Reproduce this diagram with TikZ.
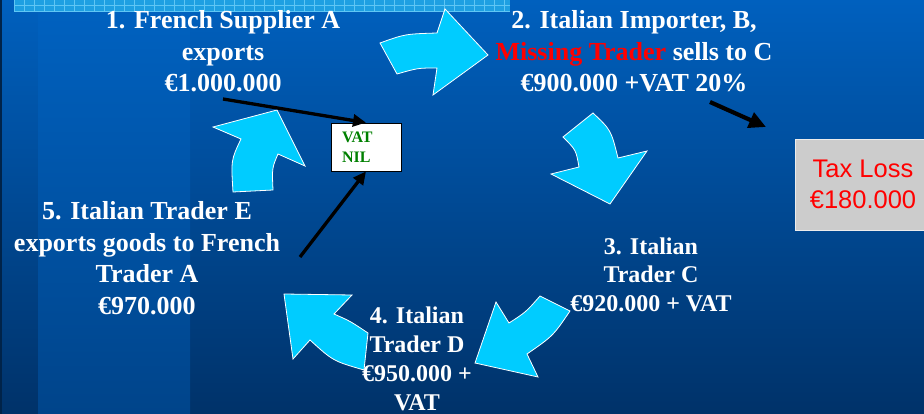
\documentclass[tikz,border=0pt]{standalone}
\usepackage{fontspec}
\setmainfont{Liberation Serif}
\newfontfamily\arialf{Liberation Sans}
\usetikzlibrary{arrows.meta}
\definecolor{bgtop}{RGB}{0,96,190}
\definecolor{bgbot}{RGB}{0,50,105}
\definecolor{bandtop}{RGB}{0,98,193}
\definecolor{bandbot}{RGB}{0,68,138}
\definecolor{cyanarr}{RGB}{0,204,255}
\definecolor{stripc}{RGB}{30,160,226}
\definecolor{stripl}{RGB}{95,198,244}
\definecolor{vatgreen}{RGB}{0,128,0}
\definecolor{lossgray}{RGB}{204,204,204}
\tikzset{
  lbl/.style={text=white, font=\bfseries\fontsize{26}{31.5}\selectfont, align=center, inner sep=0pt, anchor=base},
  lblsm/.style={text=white, font=\bfseries\fontsize{24}{29}\selectfont, align=center, inner sep=0pt, anchor=base},
  blockarrow/.style={fill=cyanarr, draw=white, line width=0.8pt, line join=miter},
  blackarrow/.style={draw=black, line width=3.3pt, -{Triangle[length=13pt,width=12pt]}},
  bigblackarrow/.style={draw=black, line width=4.2pt, -{Triangle[length=17pt,width=16pt]}},
}
\begin{document}
\begin{tikzpicture}[x=1pt,y=-1pt]
\clip (0,0) rectangle (924,414);
% background
\shade[top color=bgtop, bottom color=bgbot] (0,0) rectangle (924,414);
\shade[top color=bandtop, bottom color=bandbot] (38,0) rectangle (190,414);
\fill[bgbot!70!black] (0,0) rectangle (1.5,414);
% top checkered strip
\fill[stripc] (14,0) rectangle (510,11);
\foreach \x in {14,24,...,504} \draw[stripl, line width=0.5pt] (\x,0) -- (\x,11);
\draw[stripl, line width=0.5pt] (14,5.5) -- (510,5.5);
\draw[stripl, line width=0.5pt] (14,10.8) -- (510,10.8);

% labels (anchor=base is the baseline of the last line)
\node[lbl] (t1) at (223,92) {1. French Supplier A\\exports\\€1.000.000};
\node[lbl] (t2) at (634,92) {2. Italian Importer, B,\\{\color{red}Missing Trader} sells to C\\€900.000 +VAT 20\%};
\node[lblsm] (t3) at (651,312) {3. Italian\\Trader C\\€920.000 + VAT};
\node[lblsm] (t4) at (417,410) {4. Italian\\Trader D\\€950.000 +\\VAT};
\node[lbl] (t5) at (147,314) {5. Italian Trader E\\exports goods to French\\Trader A\\€970.000};

% VAT box
\node[draw=black, fill=white, line width=0.8pt, minimum width=70pt, minimum height=48pt,
      text width=48pt, inner xsep=11pt, align=left, text=vatgreen,
      font=\bfseries\fontsize{16}{20}\selectfont] (vat) at (366,147) {VAT\\NIL};

% Tax loss box
\node[draw=white!85!gray, fill=lossgray, line width=0.8pt, minimum width=136pt, minimum height=91pt,
      align=center, text=red, font=\arialf\fontsize{25.5}{31}\selectfont] (loss) at (863,184.5) {Tax Loss\\€180.000};

% block arrows
\path[blockarrow] (380,43) .. controls (405,34) .. (437,33) -- (445,9) -- (488,55) -- (433,95) -- (437,68) .. controls (418,68) .. (397,74) -- cycle;
\path[blockarrow] (593,113) .. controls (611,130) .. (618,158) -- (647,151) -- (610,204) -- (551,174) -- (579,167) .. controls (576,150) .. (563,137) -- cycle;
\path[blockarrow] (570,311) .. controls (553,336) .. (527,354) -- (538,377) -- (475,363) -- (496,302) -- (509,323) .. controls (526,312) .. (540,296) -- cycle;
\path[blockarrow] (368,333) .. controls (350,321) .. (334,314) -- (352,295) -- (284,294) -- (293,359) -- (310,340) .. controls (333,361) .. (364,370) -- cycle;
\path[blockarrow] (233,192) .. controls (231,160) .. (241,139) -- (213,127) -- (277,110) -- (305,166) -- (278,154) .. controls (272,168) .. (273,190) -- cycle;

% black arrows
\coordinate (a1s) at (223,99);
\coordinate (a2s) at (300,257);
\coordinate (a3s) at (710,102);
\coordinate (a3e) at (766,127);
\draw[blackarrow] (a1s) -- (vat.north);
\draw[blackarrow] (a2s) -- (vat.south);
\draw[bigblackarrow] (a3s) -- (a3e);
\end{tikzpicture}
\end{document}
